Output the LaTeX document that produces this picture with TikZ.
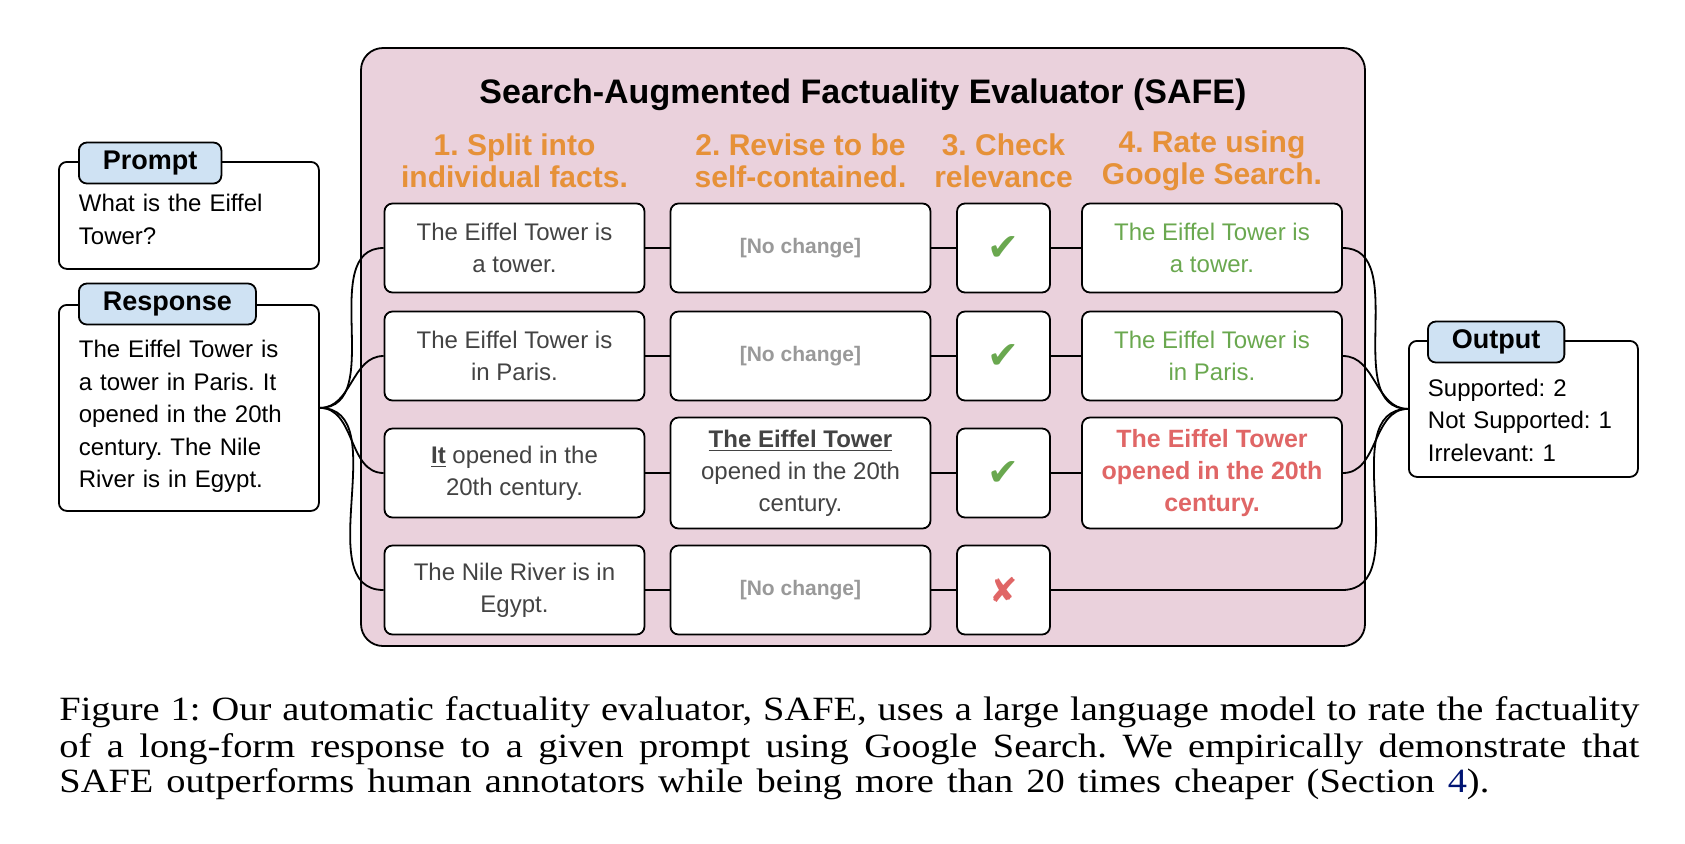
\documentclass[tikz,border=0pt]{standalone}
\usepackage{fontspec}
\setmainfont{Liberation Serif}
\setsansfont{Liberation Sans}
\newfontfamily\markfont{DejaVu Sans}
\newfontfamily\capfont[FakeStretch=1.13]{Liberation Serif}
\usetikzlibrary{positioning}
\definecolor{pinkbg}{RGB}{234,209,220}
\definecolor{tagblue}{RGB}{207,226,243}
\definecolor{safeorange}{RGB}{230,145,56}
\definecolor{okgreen}{RGB}{106,168,79}
\definecolor{badred}{RGB}{224,102,102}
\definecolor{factgray}{RGB}{67,67,67}
\definecolor{nogray}{RGB}{153,153,153}
\definecolor{linkblue}{RGB}{0,20,115}

\newcommand{\nochg}{{\color{nogray}\bfseries\fontsize{10.5}{12}\selectfont[No change]}}
\newcommand{\markyes}{{\markfont\color{okgreen}\fontsize{19}{20}\selectfont ✔}}
\newcommand{\markno}{{\markfont\color{badred}\fontsize{17}{20}\selectfont ✘}}
\newcommand{\topgap}[1]{\rule{0pt}{#1}}

\tikzset{
  factbox/.style={draw=black,line width=0.9pt,rounded corners=4pt,
    fill=white,align=center,text=factgray,inner sep=2pt,
    font=\sffamily\fontsize{12}{16}\selectfont,
    minimum width=130pt,minimum height=44.5pt},
  tallbox/.style={factbox,minimum height=55.5pt},
  checkbox/.style={factbox,minimum width=46.5pt},
  iobox/.style={draw=black,line width=0.9pt,rounded corners=4pt,
    fill=white,align=left,anchor=north west,inner xsep=10pt,
    font=\sffamily\fontsize{12}{16.25}\selectfont},
  tag/.style={draw=black,line width=0.9pt,rounded corners=4pt,
    fill=tagblue,anchor=west,inner xsep=12pt,minimum height=20.5pt,
    font=\sffamily\bfseries\fontsize{13.5}{15}\selectfont},
  header/.style={text=safeorange,align=center,
    font=\sffamily\bfseries\fontsize{15}{16}\selectfont},
  link/.style={line width=0.9pt},
  capline/.style={anchor=west,inner sep=0pt,
    font=\capfont\fontsize{17}{20}\selectfont}
}

\begin{document}
\frenchspacing
\begin{tikzpicture}[x=0.5pt,y=-0.5pt]
  \useasboundingbox (0,0) rectangle (1685,843);

  % evaluator panel
  \draw[fill=pinkbg,line width=0.9pt,rounded corners=11pt]
    (361,48) rectangle (1365,646);
  \node[font=\sffamily\bfseries\fontsize{17}{20}\selectfont] (title)
    at (863,95) {Search-Augmented Factuality Evaluator (SAFE)};

  \node[header] (h1) at (514.5,161) {1. Split into\\individual facts.};
  \node[header] (h2) at (800.5,161) {2. Revise to be\\self-contained.};
  \node[header] (h3) at (1003.5,161) {3. Check\\relevance};
  \node[header] (h4) at (1212,161) {4. Rate using\\Google Search.};

  % step 1
  \node[factbox] (f1) at (514.5,248) {The Eiffel Tower is\\a tower.};
  \node[factbox] (f2) at (514.5,356) {The Eiffel Tower is\\in Paris.};
  \node[factbox] (f3) at (514.5,473) {\underline{\textbf{It}} opened in the\\20th century.};
  \node[factbox] (f4) at (514.5,590) {The Nile River is in\\Egypt.};
  % step 2
  \node[factbox] (r1) at (800.5,248) {\nochg};
  \node[factbox] (r2) at (800.5,356) {\nochg};
  \node[tallbox] (r3) at (800.5,473)
    {\underline{\textbf{The Eiffel Tower}}\\opened in the 20th\\century.};
  \node[factbox] (r4) at (800.5,590) {\nochg};
  % step 3
  \node[checkbox] (c1) at (1003.5,248) {\markyes};
  \node[checkbox] (c2) at (1003.5,356) {\markyes};
  \node[checkbox] (c3) at (1003.5,473) {\markyes};
  \node[checkbox] (c4) at (1003.5,590) {\markno};
  % step 4
  \node[factbox,text=okgreen] (g1) at (1212,248) {The Eiffel Tower is\\a tower.};
  \node[factbox,text=okgreen] (g2) at (1212,356) {The Eiffel Tower is\\in Paris.};
  \node[tallbox,text=badred,font=\sffamily\bfseries\fontsize{12.5}{16}\selectfont]
    (g3) at (1212,473) {The Eiffel Tower\\opened in the 20th\\century.};

  % input and output
  \node[iobox,text width=110pt,minimum height=53.5pt] (prompt) at (58,161)
    {\topgap{12.5pt}What is the Eiffel\\Tower?};
  \node[iobox,text width=110pt,minimum height=103pt] (response) at (58,304)
    {\topgap{17.5pt}The Eiffel Tower is\\a tower in Paris. It\\opened in the 20th\\century. The Nile\\River is in Egypt.};
  \node[iobox,text width=95.5pt,inner xsep=9.5pt,minimum height=68pt] (output) at (1408,340)
    {\topgap{20pt}Supported: 2\\Not Supported: 1\\Irrelevant: 1};
  \node[tag,yshift=-1pt] (prompttag) at ([xshift=10pt]prompt.north west) {Prompt};
  \node[tag] (responsetag) at ([xshift=10pt]response.north west) {Response};
  \node[tag,yshift=-1pt] (outputtag) at ([xshift=9.5pt]output.north west) {Output};

  % connectors
  \foreach \i in {1,...,4}
    \draw[link] (response.east) to[out=0,in=180] (f\i.west);
  \foreach \i in {1,2,3} {
    \draw[link] (f\i) -- (r\i) -- (c\i) -- (g\i);
    \draw[link] (g\i.east) to[out=0,in=180] (output.west);
  }
  \coordinate (row4end) at (1342,590);
  \draw[link] (f4) -- (r4) -- (c4);
  \draw[link] (c4.east) -- (row4end) to[out=0,in=180] (output.west);

  % caption
  \node[capline] (cap1) at (59,712.5) {\makebox[790pt][s]{Figure 1: Our automatic factuality evaluator, SAFE, uses a large language model to rate the factuality}};
  \node[capline] (cap2) at (59,749) {\makebox[790pt][s]{of a long-form response to a given prompt using Google Search. We empirically demonstrate that}};
  \node[capline] (cap3) at (59,784.5) {\makebox[715pt][s]{SAFE outperforms human annotators while being more than 20 times cheaper (Section {\color{linkblue}4}).}};
\end{tikzpicture}
\end{document}
